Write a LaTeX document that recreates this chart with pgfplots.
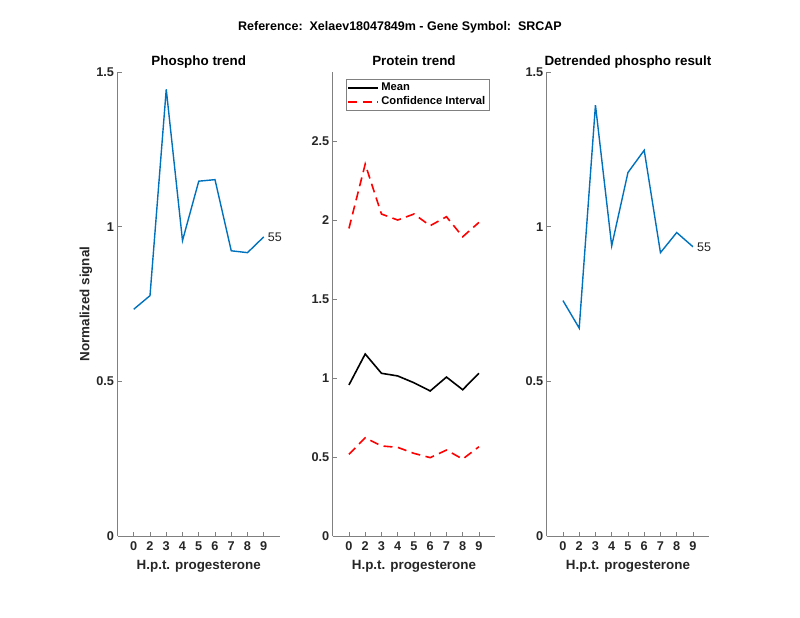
\documentclass[border=0pt]{standalone}
\usepackage{fontspec}
\setmainfont{Liberation Sans}
\usepackage{pgfplots}
\pgfplotsset{compat=1.18}
\definecolor{mblue}{rgb}{0,0.447,0.741}
\definecolor{axgray}{rgb}{0.5,0.5,0.5}
\definecolor{txt}{rgb}{0.15,0.15,0.15}
\pgfplotsset{
  every axis title shift=0pt,
  mstyle/.style={
    scale only axis, width=162.5pt, height=464pt,
    anchor=south west,
    axis lines=left, axis line style={-, draw=axgray, line width=0.6pt},
    tick style={draw=axgray, line width=0.6pt},
    tick align=inside, major tick length=4pt,
    xmin=0, xmax=10, ymin=0,
    xtick={1,...,9}, xticklabels={0,2,3,4,5,6,7,8,9},
    /pgf/number format/assume math mode=true,
    tick label style={font=\bfseries\fontsize{12.7}{14}\selectfont, text=txt},
    xticklabel style={yshift=-2pt},
    xlabel={H.p.t. progesterone},
    xlabel style={font=\bfseries\fontsize{13.4}{15}\selectfont, text=txt, at={(axis description cs:0.5,-0.065)}, anchor=center},
    title style={font=\bfseries\fontsize{13.4}{15}\selectfont, at={(axis description cs:0.5,1.015)}, anchor=base},
    clip=false,
  }
}
\begin{document}
\begin{tikzpicture}[x=1pt,y=1pt]
\path[use as bounding box] (0,0) rectangle (800,618);
\node[anchor=base, font=\bfseries\fontsize{12.5}{14}\selectfont] at (400,587) {Reference:\ \ Xelaev18047849m - Gene Symbol:\ \ SRCAP};

% Phospho trend
\begin{axis}[mstyle, at={(117.5pt,82pt)}, ymax=1.5, ytick={0,0.5,1,1.5},
  title={Phospho trend}, ylabel={Normalized signal},
  ylabel style={font=\bfseries\fontsize{13.4}{15}\selectfont, text=txt, at={(axis description cs:-0.194,0.5)}, anchor=center}]
\addplot[mblue, line width=1.4pt] coordinates {
  (1,0.733) (2,0.777) (3,1.444) (4,0.955) (5,1.147) (6,1.152) (7,0.922) (8,0.916) (9,0.967)
};
\node[anchor=west, inner sep=0, xshift=4pt, font=\fontsize{12.5}{14}\selectfont, text=txt] at (axis cs:9,0.967) {55};
\end{axis}

% Protein trend
\begin{axis}[mstyle, at={(332.7pt,82pt)}, ymax=2.937, ytick={0,0.5,1,1.5,2,2.5},
  title={Protein trend},
  legend style={draw=axgray, font=\bfseries\fontsize{11.2}{13}\selectfont, text=black,
    at={(0.08,0.984)}, anchor=north west, inner sep=1.5pt, row sep=0.5pt},
  legend cell align=left,
  legend image code/.code={\draw[#1, line width=2pt] (0pt,0pt) -- (30pt,0pt);}]
\addplot[black, line width=1.6pt] coordinates {
  (1,0.956) (2,1.152) (3,1.030) (4,1.013) (5,0.970) (6,0.918) (7,1.006) (8,0.926) (9,1.030)
};
\addlegendentry{Mean}
\addplot[red, line width=1.6pt, dash pattern=on 9pt off 5.5pt] coordinates {
  (1,1.947) (2,2.354) (3,2.038) (4,2.000) (5,2.038) (6,1.964) (7,2.021) (8,1.894) (9,1.985)
};
\addlegendentry{Confidence Interval}
\addplot[red, line width=1.6pt, dash pattern=on 9pt off 5.5pt, forget plot] coordinates {
  (1,0.517) (2,0.622) (3,0.570) (4,0.561) (5,0.523) (6,0.496) (7,0.544) (8,0.487) (9,0.565)
};
\end{axis}

% Detrended phospho result
\begin{axis}[mstyle, at={(546.7pt,82pt)}, ymax=1.5, ytick={0,0.5,1,1.5},
  title={Detrended phospho result}]
\addplot[mblue, line width=1.4pt] coordinates {
  (1,0.761) (2,0.672) (3,1.393) (4,0.938) (5,1.175) (6,1.247) (7,0.916) (8,0.981) (9,0.935)
};
\node[anchor=west, inner sep=0, xshift=4pt, font=\fontsize{12.5}{14}\selectfont, text=txt] at (axis cs:9,0.935) {55};
\end{axis}
\end{tikzpicture}
\end{document}
